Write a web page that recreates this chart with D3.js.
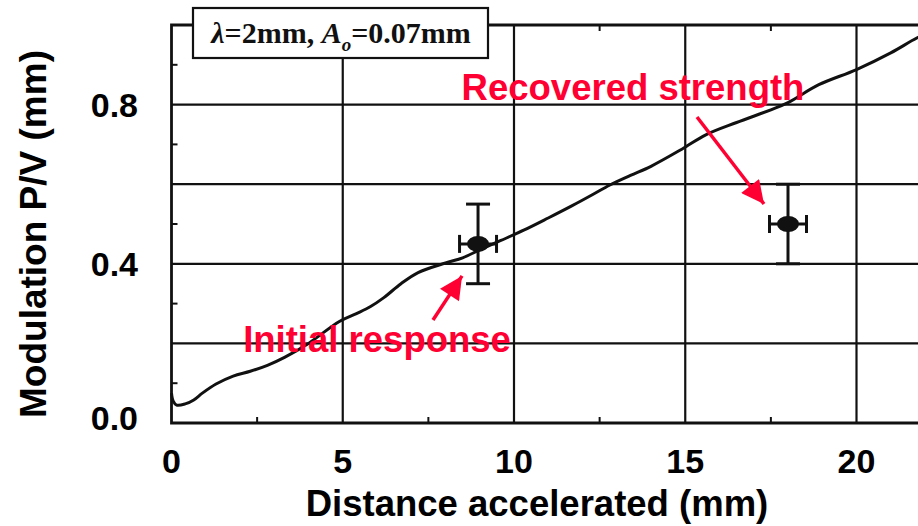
<!DOCTYPE html>
<html>
<head>
<meta charset="utf-8">
<script src="https://cdn.jsdelivr.net/npm/d3@7"></script>
<style>
  html, body { margin: 0; padding: 0; background: #fff; }
  svg { display: block; }
</style>
</head>
<body>
<svg id="chart" width="918" height="526"></svg>
<script>
// Measured modulation curve: distance accelerated (mm) vs. modulation P/V (mm)
const curveX = [0, 0.05, 0.15, 0.4, 0.65, 0.9, 1.3, 1.8, 2.3, 2.8, 3.3, 4.0, 4.9, 5.4, 5.8, 6.2, 6.7, 7.2, 8.0, 8.5, 9.0, 9.6, 10.3, 11.0, 11.7, 12.3, 12.8, 13.4, 14.0, 14.9, 15.6, 16.5, 17.5, 18.0, 18.9, 20.0, 21.0, 21.8, 22.6];
const curveY = [0.075, 0.055, 0.045, 0.048, 0.058, 0.075, 0.098, 0.118, 0.13, 0.145, 0.165, 0.2, 0.255, 0.275, 0.292, 0.315, 0.35, 0.378, 0.402, 0.415, 0.435, 0.458, 0.485, 0.515, 0.546, 0.574, 0.598, 0.622, 0.645, 0.688, 0.724, 0.755, 0.787, 0.805, 0.85, 0.888, 0.93, 0.969, 1.0];

// Discrete measurements with error bars
const pointLabels = ["Initial response", "Recovered strength"];
const pointX = [8.95, 18.0];
const pointY = [0.45, 0.50];
const pointXErr = [0.54, 0.54];
const pointYErr = [0.10, 0.10];

// Axis ticks
const xTickValues = [0, 5, 10, 15, 20];
const xMinorTicks = [2.5, 7.5, 12.5, 17.5];
const yTickValues = [0.0, 0.4, 0.8];
const yGridValues = [0.2, 0.4, 0.6, 0.8];
const yMinorTicks = [0.1, 0.3, 0.5, 0.7, 0.9];

const svg = d3.select("#chart");
const ink = "#111";
const red = "#ff0033";

const x = d3.scaleLinear().domain([0, 20]).range([171.5, 856.5]);
const y = d3.scaleLinear().domain([0, 1]).range([423, 25]);

const plotL = x(0), plotR = 960, plotT = y(1), plotB = y(0);

// Grid lines
svg.append("g").selectAll("line").data(xTickValues.filter(d => d > 0)).join("line")
  .attr("x1", d => x(d)).attr("x2", d => x(d))
  .attr("y1", plotT).attr("y2", plotB)
  .attr("stroke", ink).attr("stroke-width", 2.2);
svg.append("g").selectAll("line").data(yGridValues).join("line")
  .attr("x1", plotL).attr("x2", plotR)
  .attr("y1", d => y(d)).attr("y2", d => y(d))
  .attr("stroke", ink).attr("stroke-width", 2.2);

// Minor ticks (inward)
svg.append("g").selectAll("line").data(xMinorTicks).join("line")
  .attr("x1", d => x(d)).attr("x2", d => x(d))
  .attr("y1", plotB).attr("y2", plotB - 6)
  .attr("stroke", ink).attr("stroke-width", 2);
svg.append("g").selectAll("line").data(xMinorTicks).join("line")
  .attr("x1", d => x(d)).attr("x2", d => x(d))
  .attr("y1", plotT).attr("y2", plotT + 6)
  .attr("stroke", ink).attr("stroke-width", 2);
svg.append("g").selectAll("line").data(yMinorTicks).join("line")
  .attr("x1", plotL).attr("x2", plotL + 6)
  .attr("y1", d => y(d)).attr("y2", d => y(d))
  .attr("stroke", ink).attr("stroke-width", 2);

// Frame
svg.append("path")
  .attr("d", `M${plotR},${plotT}H${plotL}V${plotB}H${plotR}`)
  .attr("fill", "none").attr("stroke", ink).attr("stroke-width", 2.8);

// Curve
const line = d3.line().x((d, i) => x(curveX[i])).y(d => y(d)).curve(d3.curveCatmullRom.alpha(0.5));
svg.append("path")
  .datum(curveY)
  .attr("d", line)
  .attr("fill", "none").attr("stroke", ink).attr("stroke-width", 3);

// Error bars and points
const pts = svg.append("g").selectAll("g").data(pointX).join("g");
pts.append("line")
  .attr("x1", d => x(d)).attr("x2", d => x(d))
  .attr("y1", (d, i) => y(pointY[i] + pointYErr[i])).attr("y2", (d, i) => y(pointY[i] - pointYErr[i]))
  .attr("stroke", ink).attr("stroke-width", 3);
[1, -1].forEach(s => {
  pts.append("line")
    .attr("x1", d => x(d) - 12).attr("x2", d => x(d) + 12)
    .attr("y1", (d, i) => y(pointY[i] + s * pointYErr[i])).attr("y2", (d, i) => y(pointY[i] + s * pointYErr[i]))
    .attr("stroke", ink).attr("stroke-width", 3);
  pts.append("line")
    .attr("x1", (d, i) => x(d + s * pointXErr[i])).attr("x2", (d, i) => x(d + s * pointXErr[i]))
    .attr("y1", (d, i) => y(pointY[i]) - 9).attr("y2", (d, i) => y(pointY[i]) + 9)
    .attr("stroke", ink).attr("stroke-width", 3);
});
pts.append("line")
  .attr("x1", (d, i) => x(d - pointXErr[i])).attr("x2", (d, i) => x(d + pointXErr[i]))
  .attr("y1", (d, i) => y(pointY[i])).attr("y2", (d, i) => y(pointY[i]))
  .attr("stroke", ink).attr("stroke-width", 3);
pts.append("ellipse")
  .attr("cx", d => x(d)).attr("cy", (d, i) => y(pointY[i]))
  .attr("rx", 11).attr("ry", 8).attr("fill", ink);

// Parameter box
const box = svg.append("g");
box.append("rect").attr("x", 193).attr("y", 8).attr("width", 295).attr("height", 50)
  .attr("fill", "#fff").attr("stroke", ink).attr("stroke-width", 2.2);
const bt = box.append("text").attr("x", 341).attr("y", 43).attr("text-anchor", "middle")
  .attr("font-family", "'Liberation Serif', 'DejaVu Serif', serif").attr("font-size", 30).attr("font-weight", "bold").attr("fill", ink);
bt.append("tspan").attr("font-style", "italic").text("λ");
bt.append("tspan").text("=2mm, ");
bt.append("tspan").attr("font-style", "italic").text("A");
bt.append("tspan").attr("font-style", "italic").attr("font-size", 19).attr("dy", 8).text("o");
bt.append("tspan").attr("dy", -8).text("=0.07mm");

// Axis tick labels
const labelFont = "'Liberation Sans', Arial, sans-serif";
svg.append("g").selectAll("text").data(xTickValues).join("text")
  .attr("x", d => x(d)).attr("y", 473)
  .attr("text-anchor", "middle")
  .attr("font-family", labelFont).attr("font-weight", "bold").attr("font-size", 34).attr("fill", "#000")
  .text(d => d);
svg.append("g").selectAll("text").data(yTickValues).join("text")
  .attr("x", 138).attr("y", d => y(d) + 12 - (d === 0 ? 5 : 0))
  .attr("text-anchor", "end")
  .attr("font-family", labelFont).attr("font-weight", "bold").attr("font-size", 34).attr("fill", "#000")
  .text(d => d.toFixed(1));

// Axis titles
svg.append("text")
  .attr("x", 537).attr("y", 516).attr("text-anchor", "middle")
  .attr("font-family", labelFont).attr("font-weight", "bold").attr("font-size", 36.5).attr("fill", "#000")
  .text("Distance accelerated (mm)");
svg.append("text")
  .attr("transform", "translate(46,234) rotate(-90)").attr("text-anchor", "middle")
  .attr("font-family", labelFont).attr("font-weight", "bold").attr("font-size", 37).attr("fill", "#000")
  .text("Modulation P/V (mm)");

// Annotations
svg.append("defs").append("marker")
  .attr("id", "head").attr("viewBox", "0 0 10 10").attr("refX", 10).attr("refY", 5)
  .attr("markerWidth", 7).attr("markerHeight", 6.5).attr("markerUnits", "strokeWidth")
  .attr("orient", "auto")
  .append("path").attr("d", "M0,0L10,5L0,10z").attr("fill", red);

const notes = [
  { text: pointLabels[1], tx: 633, ty: 100, ax1: 697, ay1: 117, i: 1, dx: -24, dy: -20 },
  { text: pointLabels[0], tx: 377, ty: 352, ax1: 433, ay1: 320, i: 0, dx: -16, dy: 32 }
];
notes.forEach(n => {
  svg.append("line")
    .attr("x1", n.ax1).attr("y1", n.ay1)
    .attr("x2", x(pointX[n.i]) + n.dx).attr("y2", y(pointY[n.i]) + n.dy)
    .attr("stroke", red).attr("stroke-width", 3.5).attr("marker-end", "url(#head)");
  svg.append("text")
    .attr("x", n.tx).attr("y", n.ty).attr("text-anchor", "middle")
    .attr("font-family", labelFont).attr("font-weight", "bold").attr("font-size", 36.5).attr("fill", red)
    .text(n.text);
});
</script>
</body>
</html>
